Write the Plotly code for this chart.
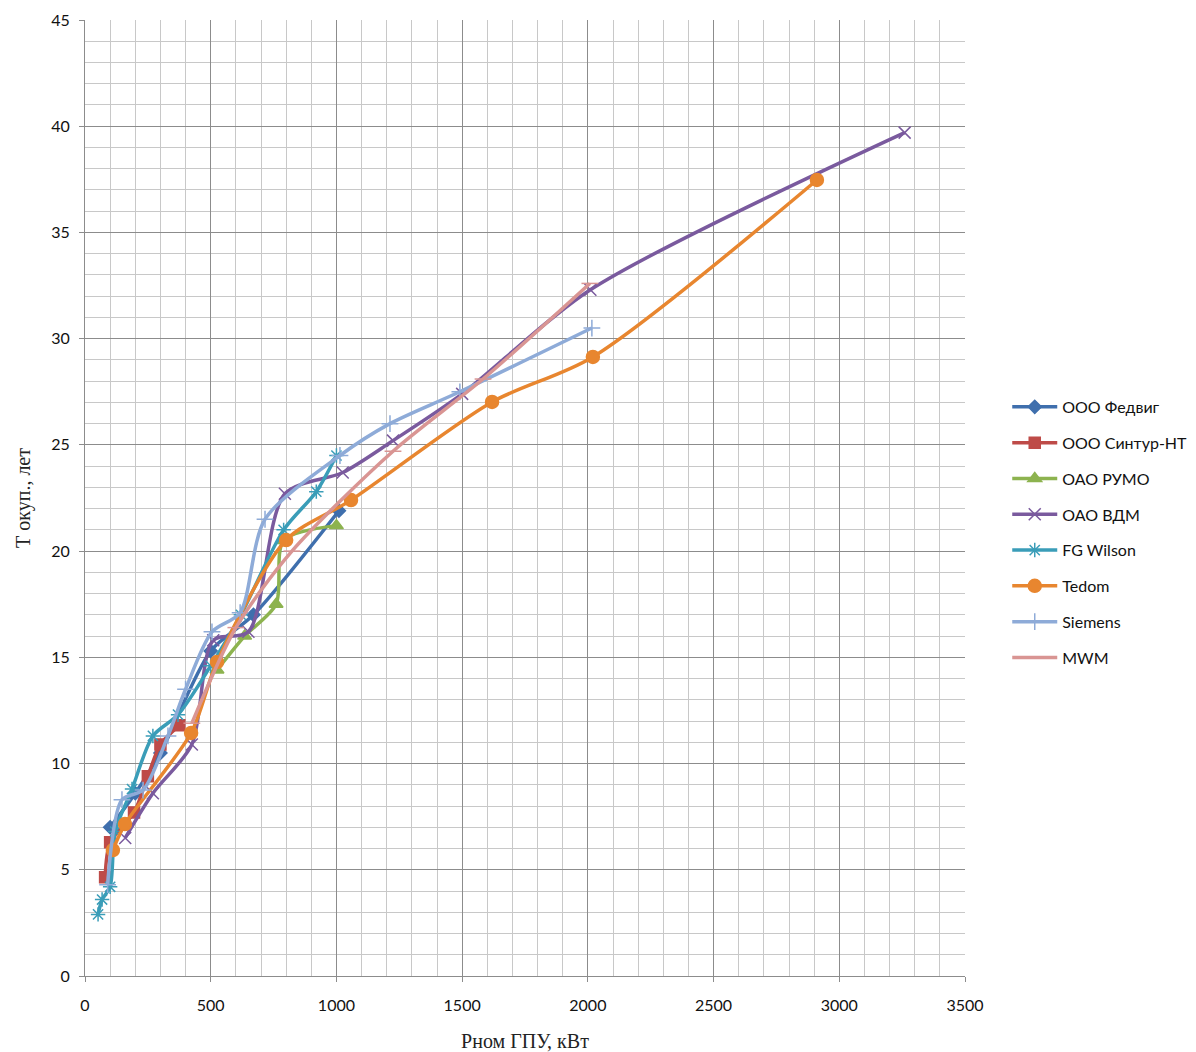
import plotly.graph_objects as go

names = ["ООО Федвиг", "ООО Синтур-НТ", "ОАО РУМО", "ОАО ВДМ", "FG Wilson", "Tedom", "Siemens", "MWM"]

fedvig_x = [100, 200, 300, 500, 670, 1010]
fedvig_y = [7.0, 8.6, 10.5, 15.3, 17.0, 21.9]

sintur_x = [80, 100, 195, 250, 300, 375]
sintur_y = [4.65, 6.3, 7.7, 9.4, 10.9, 11.8]

rumo_x = [525, 635, 760, 790, 1000]
rumo_y = [14.4, 16.0, 17.5, 20.5, 21.2]

vdm_x = [160, 270, 425, 510, 650, 795, 1025, 1225, 1500, 2010, 3260]
vdm_y = [6.5, 8.6, 10.9, 15.8, 16.2, 22.7, 23.7, 25.2, 27.4, 32.3, 39.7]

fgw_x = [52, 68, 100, 120, 187, 270, 370, 500, 620, 790, 920, 1000]
fgw_y = [2.9, 3.6, 4.2, 6.8, 8.8, 11.3, 12.3, 14.6, 17.0, 21.0, 22.8, 24.5]

tedom_x = [111, 159, 422, 525, 800, 1058, 1619, 2020, 2911]
tedom_y = [5.93, 7.15, 11.44, 14.78, 20.52, 22.4, 27.02, 29.14, 37.47]

siemens_x = [90, 147, 231, 330, 400, 505, 617, 716, 1014, 1213, 1491, 2016]
siemens_y = [4.3, 8.3, 8.75, 11.3, 13.5, 16.2, 17.1, 21.5, 24.5, 26.0, 27.5, 30.5]

mwm_x = [425, 600, 823, 1225, 1583, 2008]
mwm_y = [11.9, 16.4, 20.0, 24.7, 28.1, 32.6]

xs = [fedvig_x, sintur_x, rumo_x, vdm_x, fgw_x, tedom_x, siemens_x, mwm_x]
ys = [fedvig_y, sintur_y, rumo_y, vdm_y, fgw_y, tedom_y, siemens_y, mwm_y]

colors = ["#3F6FAD", "#BE4B48", "#8DB34F", "#7A5A9E", "#3A9DB8", "#E8862F", "#8EABD8", "#D99593"]
markers = [
    dict(symbol="diamond", size=10),
    dict(symbol="square", size=11),
    dict(symbol="triangle-up", size=12),
    dict(symbol="x-thin", size=12),
    dict(symbol="asterisk", size=12),
    dict(symbol="circle", size=13),
    dict(symbol="cross-thin", size=12),
    dict(symbol="line-ew", size=12),
]

fig = go.Figure()
for i in range(len(names)):
    m = dict(markers[i])
    m["color"] = colors[i]
    m["line"] = dict(width=1.5, color=colors[i])
    fig.add_trace(go.Scatter(
        x=xs[i], y=ys[i], name=names[i], mode="lines+markers",
        line=dict(color=colors[i], width=3.5, shape="spline", smoothing=0.8),
        marker=m, legendgroup=names[i],
    ))

fig.update_layout(
    width=1196, height=1052,
    margin=dict(l=85, r=231, t=20, b=76, autoexpand=False),
    paper_bgcolor="white", plot_bgcolor="white",
    font=dict(family="Lato, Open Sans, sans-serif", size=16, color="#111"),
    showlegend=True,
    legend=dict(x=1.048, y=0.613, xanchor="left", yanchor="top",
                font=dict(size=16, color="#111"), tracegroupgap=12, itemwidth=45,
                bgcolor="rgba(0,0,0,0)"),
    xaxis=dict(range=[0, 3500], dtick=500, tick0=0, showgrid=True, gridcolor="#8C8C8C", gridwidth=1,
               minor=dict(dtick=100, showgrid=True, gridcolor="#C8C8C8", gridwidth=1),
               showline=True, linecolor="#8C8C8C", ticks="outside", ticklen=5, tickcolor="#8C8C8C",
               zeroline=False, mirror=False, ticklabelstandoff=10,
               title=dict(text="Рном ГПУ, кВт", font=dict(family="Liberation Serif, serif", size=20, color="#222"), standoff=22),
               tickfont=dict(size=16)),
    yaxis=dict(range=[0, 45], dtick=5, tick0=0, showgrid=True, gridcolor="#8C8C8C", gridwidth=1,
               minor=dict(dtick=1, showgrid=True, gridcolor="#C8C8C8", gridwidth=1),
               showline=True, linecolor="#8C8C8C", ticks="outside", ticklen=5, tickcolor="#8C8C8C",
               zeroline=False, ticklabelstandoff=6,
               title=dict(text="Т окуп., лет", font=dict(family="Liberation Serif, serif", size=20, color="#222"), standoff=15),
               tickfont=dict(size=16)),
)

fig.write_html("out.html")
